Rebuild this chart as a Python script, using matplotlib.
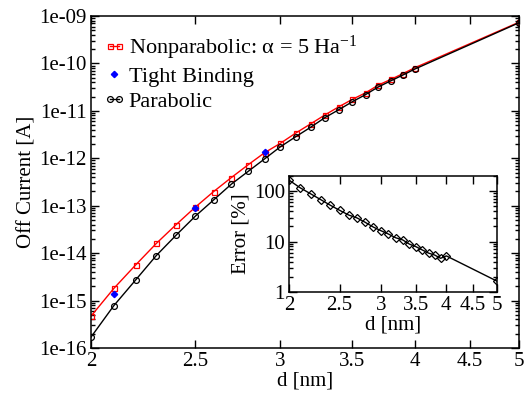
import matplotlib
matplotlib.use('Agg')
import matplotlib.pyplot as plt
from matplotlib.legend_handler import HandlerLine2D
from matplotlib.ticker import FixedLocator, NullLocator, LogLocator, NullFormatter

plt.rcParams['font.family'] = ['Liberation Serif', 'DejaVu Serif']
plt.rcParams['mathtext.fontset'] = 'custom'
plt.rcParams['mathtext.rm'] = 'Liberation Serif'
plt.rcParams['mathtext.it'] = 'Liberation Serif:italic'

############################## data ##
d = [2.0, 2.1, 2.2, 2.3, 2.4, 2.5, 2.6, 2.7, 2.8, 2.9, 3.0,
     3.1, 3.2, 3.3, 3.4, 3.5, 3.6, 3.7, 3.8, 3.9, 4.0, 5.0]
nonparabolic = [4.7e-16, 1.8e-15, 5.6e-15, 1.6e-14, 4.0e-14, 9.3e-14, 1.98e-13,
                3.9e-13, 7.3e-13, 1.31e-12, 2.07e-12, 3.4e-12, 5.3e-12, 8.2e-12,
                1.22e-11, 1.75e-11, 2.4e-11, 3.5e-11, 4.6e-11, 6.1e-11, 8.1e-11, 7.4e-10]
parabolic = [1.7e-16, 7.8e-16, 2.7e-15, 8.9e-15, 2.4e-14, 6.0e-14, 1.32e-13,
             2.83e-13, 5.3e-13, 9.7e-13, 1.75e-12, 2.85e-12, 4.5e-12, 7.2e-12,
             1.06e-11, 1.56e-11, 2.2e-11, 3.2e-11, 4.3e-11, 5.7e-11, 7.6e-11, 7.2e-10]
d_tb = [2.1, 2.5, 2.9]
tight_binding = [1.4e-15, 9.0e-14, 1.35e-12]
error = [166, 117, 88.7, 68, 52.5, 41.7, 33.7, 29.4, 24, 19.4, 16.4,
         14.1, 11.9, 10.8, 8.9, 7.9, 6.8, 5.9, 5.4, 4.66, 5.2, 1.64]

x_ticks = [2, 2.5, 3, 3.5, 4, 4.5, 5]
x_labels = ['2', '2.5', '3', '3.5', '4', '4.5', '5']
y_ticks = [1e-16, 1e-15, 1e-14, 1e-13, 1e-12, 1e-11, 1e-10, 1e-09]
y_labels = ['1e-16', '1e-15', '1e-14', '1e-13', '1e-12', '1e-11', '1e-10', '1e-09']
err_ticks = [1, 10, 100]
err_labels = ['1', '10', '100']

FS = 15


def style_axes(ax):
    for s in ax.spines.values():
        s.set_linewidth(1.1)
    ax.tick_params(which='both', direction='in', top=True, right=True,
                   labelsize=FS, width=1.0)
    ax.tick_params(which='major', length=6, pad=3)
    ax.tick_params(which='minor', length=3)


fig = plt.figure(figsize=(5.24, 3.94), dpi=100)
ax = fig.add_axes([0.1737, 0.1168, 0.8168, 0.8426])
style_axes(ax)

ax.plot(d, nonparabolic, color='red', lw=1.0, marker='s', ms=3.6,
        mfc='none', mec='red', mew=0.9,
        label='Nonparabolic: α = 5 Ha$^{\\mathrm{-1}}$')
ax.plot(d_tb, tight_binding, ls='none', marker='D', ms=3.2, color='blue',
        label='Tight Binding', zorder=4)
ax.plot(d, parabolic, color='black', lw=1.0, marker='o', ms=4.2,
        mfc='none', mec='black', mew=0.9, label='Parabolic')

ax.set_xscale('log')
ax.set_yscale('log')
ax.set_xlim(2, 5)
ax.set_ylim(1e-16, 1e-9)
ax.xaxis.set_major_locator(FixedLocator(x_ticks))
ax.xaxis.set_minor_locator(NullLocator())
ax.set_xticklabels(x_labels)
ax.yaxis.set_major_locator(FixedLocator(y_ticks))
ax.yaxis.set_minor_locator(LogLocator(base=10, subs=range(2, 10), numticks=20))
ax.yaxis.set_minor_formatter(NullFormatter())
ax.set_yticklabels(y_labels)
ax.set_xlabel('d [nm]', fontsize=FS, labelpad=0)
ax.set_ylabel('Off Current [A]', fontsize=FS, labelpad=2)

ax.legend(loc='upper left', bbox_to_anchor=(0.0, 0.984), frameon=False,
          fontsize=FS + 1, handlelength=1.0, handletextpad=0.15,
          labelspacing=0.2, borderaxespad=0.15, numpoints=2,
          handler_map={ax.lines[1]: HandlerLine2D(numpoints=1)})

''' inset with the relative error '''
ins = fig.add_axes([0.5515, 0.2589, 0.3970, 0.2944])
style_axes(ins)
ins.plot(d, error, color='black', lw=1.0, marker='D', ms=3.8,
         mfc='none', mec='black', mew=0.9)
ins.set_xscale('log')
ins.set_yscale('log')
ins.set_xlim(2, 5)
ins.set_ylim(1, 200)
ins.xaxis.set_major_locator(FixedLocator(x_ticks))
ins.xaxis.set_minor_locator(NullLocator())
ins.set_xticklabels(x_labels)
ins.yaxis.set_major_locator(FixedLocator(err_ticks))
ins.yaxis.set_minor_locator(LogLocator(base=10, subs=range(2, 10), numticks=20))
ins.yaxis.set_minor_formatter(NullFormatter())
ins.set_yticklabels(err_labels)
ins.set_xlabel('d [nm]', fontsize=FS, labelpad=0)
ins.set_ylabel('Error [%]', fontsize=FS, labelpad=2)

plt.savefig('out.png', dpi=100)
plt.close()
